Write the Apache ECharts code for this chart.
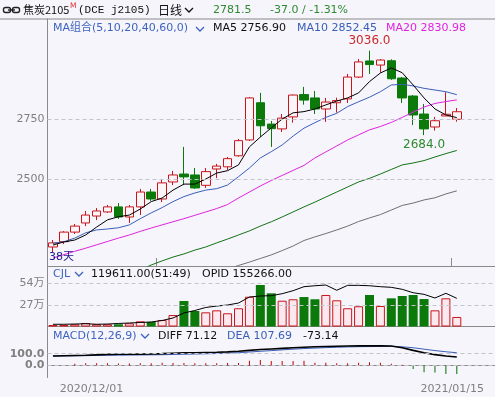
<!DOCTYPE html>
<html>
<head>
<meta charset="utf-8">
<script src="https://cdn.jsdelivr.net/npm/echarts@6/dist/echarts.min.js"></script>
<style>
html, body { margin: 0; padding: 0; background: #f5f5fb; }
#chart { width: 495px; height: 397px; }
</style>
</head>
<body>
<div id="chart"></div>
<script>
// 交易日
const dates = [
	'2020/11/24', '2020/11/25', '2020/11/26', '2020/11/27', '2020/11/30',
	'2020/12/01', '2020/12/02', '2020/12/03', '2020/12/04', '2020/12/07',
	'2020/12/08', '2020/12/09', '2020/12/10', '2020/12/11', '2020/12/14',
	'2020/12/15', '2020/12/16', '2020/12/17', '2020/12/18', '2020/12/21',
	'2020/12/22', '2020/12/23', '2020/12/24', '2020/12/25', '2020/12/28',
	'2020/12/29', '2020/12/30', '2020/12/31', '2021/01/04', '2021/01/05',
	'2021/01/06', '2021/01/07', '2021/01/08', '2021/01/11', '2021/01/12',
	'2021/01/13', '2021/01/14', '2021/01/15'
];
// K线
const opens = [2218, 2240, 2280, 2318, 2347, 2364, 2385, 2343, 2385, 2447, 2418, 2489, 2522, 2518, 2475, 2543, 2552, 2598, 2664, 2819, 2730, 2710, 2760, 2853, 2839, 2793, 2819, 2835, 2926, 2993, 2976, 2994, 2922, 2847, 2772, 2718, 2764, 2750];
const closes = [2235, 2280, 2305, 2351, 2368, 2385, 2343, 2385, 2447, 2418, 2485, 2518, 2510, 2464, 2532, 2555, 2586, 2661, 2839, 2723, 2711, 2755, 2851, 2830, 2793, 2822, 2828, 2926, 2989, 2978, 2997, 2919, 2839, 2768, 2710, 2744, 2771, 2781.5];
const lows = [2197, 2230, 2272, 2305, 2330, 2360, 2335, 2318, 2351, 2410, 2405, 2476, 2476, 2460, 2464, 2505, 2539, 2594, 2660, 2676, 2635, 2697, 2736, 2811, 2772, 2739, 2778, 2818, 2922, 2939, 2944, 2914, 2818, 2726, 2684, 2703, 2764, 2740];
const highs = [2247, 2284, 2314, 2368, 2380, 2393, 2401, 2393, 2460, 2460, 2501, 2535, 2635, 2547, 2547, 2564, 2593, 2668, 2843, 2860, 2743, 2772, 2853, 2885, 2868, 2839, 2840, 2939, 3001, 3036, 3001, 3000, 2926, 2851, 2814, 2760, 2863, 2797];
const peakIdx = 29;
const troughIdx = 34;
// 均线
const ma5 = [2226, 2239, 2247, 2268, 2301, 2331, 2344, 2351, 2376, 2407, 2422, 2455, 2480, 2480, 2501, 2526, 2536, 2560, 2635, 2676, 2714, 2751, 2777, 2782, 2793, 2810, 2826, 2839, 2860, 2907, 2943, 2964, 2944, 2893, 2839, 2793, 2768, 2756.90];
const ma10 = [2233, 2240, 2255, 2277, 2289, 2293, 2298, 2310, 2336, 2360, 2382, 2407, 2428, 2443, 2455, 2461, 2476, 2511, 2547, 2589, 2615, 2643, 2680, 2713, 2736, 2758, 2775, 2803, 2823, 2842, 2865, 2893, 2896, 2889, 2879, 2872, 2865, 2852.45];
const ma20 = [2172, 2186, 2200, 2213, 2227, 2241, 2255, 2268, 2283, 2297, 2310, 2323, 2336, 2350, 2364, 2378, 2395, 2422, 2447, 2472, 2495, 2516, 2537, 2558, 2589, 2614, 2639, 2664, 2685, 2706, 2720, 2737, 2758, 2780, 2801, 2816, 2824, 2830.98];
const ma40 = [null, null, null, null, null, null, null, null, 2122, 2143, 2160, 2176, 2189, 2205, 2218, 2235, 2251, 2268, 2285, 2305, 2323, 2343, 2364, 2385, 2405, 2426, 2447, 2468, 2489, 2504, 2522, 2541, 2560, 2568, 2578, 2593, 2607, 2620];
const ma60 = [null, null, null, null, null, null, null, null, null, null, null, null, null, null, null, null, 2126, 2141, 2155, 2170, 2185, 2203, 2222, 2245, 2260, 2274, 2289, 2305, 2324, 2339, 2353, 2372, 2391, 2401, 2414, 2423, 2439, 2452];
// 成交量 / 持仓
const volumes = [19000, 19000, 28000, 44000, 28000, 28000, 28000, 40000, 65000, 57000, 82000, 144000, 320000, 195000, 178000, 203000, 166000, 229000, 374000, 521000, 417000, 324000, 342000, 370000, 342000, 396000, 329000, 229000, 254000, 396000, 257000, 354000, 383000, 396000, 345000, 203000, 354000, 119611];
const oiLine = [28000, 28000, 31000, 35000, 28000, 31000, 38000, 44000, 50000, 57000, 75000, 107000, 170000, 201000, 239000, 257000, 270000, 295000, 370000, 383000, 387000, 412000, 450000, 500000, 512000, 521000, 455000, 517000, 517000, 512000, 500000, 492000, 467000, 424000, 404000, 358000, 417000, 354000];
const opid = 155266;
// MACD
const diff = [80, 82, 84, 86, 90, 94, 95, 95, 96, 97, 100, 104, 107, 108, 110, 112, 115, 120, 128, 135, 140, 145, 150, 154, 158, 161, 163, 165, 166, 166, 166, 165, 150, 128, 108, 92, 80, 71.12];
const dea = [80, 81, 82, 83, 85, 86, 87, 88, 89, 90, 91, 93, 95, 97, 99, 101, 104, 108, 114, 120, 126, 132, 138, 143, 147, 151, 154, 157, 159, 160, 161, 161, 158, 150, 138, 126, 116, 107.69];
const macdBar = [0, 0, 15, 18, 18, 18, 16, 16, 18, 18, 22, 20, 20, 18, 18, 18, 20, 20, 40, 46, 38, 38, 38, 40, 24, 22, 19, 19, 24, 27, 24, 15, 6, -30, -58, -60, -72, -73.14];
// 刻度
const priceTicks = [2500, 2750];
const volTicks = [270000, 540000];
const macdTicks = [0, 100];
const labelDates = ['2020/12/01', '2021/01/15'];
const tickIdx = [10, 37];

const font = '"DejaVu Sans", "Noto Sans CJK SC", sans-serif';
const cjkFont = '"Noto Sans CJK SC", sans-serif';
const upColor = '#c8151b';
const downColor = '#0b7a0b';
const axisColor = '#8a8a8a';
const blueText = '#3f63c0';
const last = dates.length - 1;

function txt(x, y, text, fill, size, fam) {
	return {
		type: 'text', x: x, y: y, z: 100, silent: true,
		style: { text: text, fill: fill, font: (size || 11) + 'px ' + (fam || font), verticalAlign: 'middle' }
	};
}
function chevron(x, y, color) {
	return {
		type: 'polyline', z: 100, silent: true,
		shape: { points: [[x, y], [x + 4, y + 4], [x + 8, y]] },
		style: { stroke: color, lineWidth: 1.3, fill: null }
	};
}
function hline(y, x1) {
	return { type: 'line', z: 90, silent: true, shape: { x1: x1, y1: y, x2: 495, y2: y }, style: { stroke: axisColor, lineWidth: 1 } };
}
function ticksLine(ticks, fmt, bold) {
	return {
		silent: true,
		symbol: ['none', 'none'],
		animation: false,
		lineStyle: { color: '#c4c4cc', type: [4, 3], width: 1 },
		label: { position: 'start', distance: 3, color: '#808080', fontFamily: font, fontSize: 11, fontWeight: bold ? 'bold' : 'normal', formatter: function (p) { return fmt(p.value); } },
		emphasis: { disabled: true },
		data: ticks.map(function (v) { return { yAxis: v }; })
	};
}
function maLine(data, color, xi, width) {
	return {
		type: 'line', data: data, xAxisIndex: xi, yAxisIndex: xi,
		symbol: 'none', showSymbol: false, silent: true,
		lineStyle: { color: color, width: width || 1 }
	};
}
function catAxis(i, tickShow, labelShow) {
	return {
		type: 'category', data: dates, gridIndex: i, max: 40, boundaryGap: true,
		axisLine: { show: true, lineStyle: { color: axisColor } },
		axisTick: {
			show: tickShow, inside: true, length: 8, alignWithLabel: false,
			interval: function (idx) { return i === 0 ? tickIdx.indexOf(idx) >= 0 : idx === tickIdx[1]; },
			lineStyle: { color: axisColor }
		},
		axisLabel: {
			show: labelShow, margin: 6, color: '#808080', fontFamily: font, fontSize: 11,
			interval: function (idx, v) { return labelDates.indexOf(v) >= 0; },
			formatter: function (v) { return v === labelDates[0] ? '{a|' + v + '}' : '{b|' + v + '}'; },
			rich: { a: { padding: [0, 32, 0, 0] }, b: { padding: [0, 9, 0, 0] } }
		},
		splitLine: { show: false }
	};
}
function valAxis(i, min, max) {
	return {
		type: 'value', gridIndex: i, min: min, max: max, scale: true,
		axisLine: { show: true, lineStyle: { color: axisColor } },
		axisTick: { show: false }, axisLabel: { show: false }, splitLine: { show: false }
	};
}

const chart = echarts.init(document.getElementById('chart'));

const option = {
	backgroundColor: '#f5f5fb',
	animation: false,
	grid: [
		{ left: 47.5, right: -3.5, top: 19, height: 247 },
		{ left: 47.5, right: -3.5, top: 266, height: 60.5 },
		{ left: 47.5, right: -3.5, top: 326.5, height: 51 }
	],
	xAxis: [catAxis(0, true, false), catAxis(1, false, false), catAxis(2, true, true)],
	yAxis: [valAxis(0, 2138.75, 3167.9), valAxis(1, 0, 760000), valAxis(2, -102, 330)],
	series: [
		{
			type: 'candlestick', xAxisIndex: 0, yAxisIndex: 0, barWidth: 9, silent: true,
			data: dates.map(function (d, i) { return [opens[i], closes[i], lows[i], highs[i]]; }),
			itemStyle: { color: '#fcf5f8', color0: downColor, borderColor: upColor, borderColor0: downColor, borderWidth: 1 },
			markLine: ticksLine(priceTicks, function (v) { return v; }),
			markPoint: {
				silent: true, animation: false, symbol: 'circle', symbolSize: 1,
				itemStyle: { color: 'rgba(0,0,0,0)' },
				label: { show: true, fontFamily: font, fontSize: 12, formatter: function (p) { return p.value.toFixed(1); } },
				data: [
					{ coord: [peakIdx, highs[peakIdx]], value: highs[peakIdx], label: { position: 'top', distance: 3, color: '#d02828' } },
					{ coord: [troughIdx, lows[troughIdx]], value: lows[troughIdx], label: { position: 'bottom', distance: 3, color: '#2e8a2e' } }
				]
			}
		},
		maLine(ma60, '#707070', 0),
		maLine(ma40, '#137313', 0),
		maLine(ma20, '#e024e0', 0),
		maLine(ma10, '#3a5fb8', 0),
		maLine(ma5, '#000000', 0),
		{
			type: 'bar', xAxisIndex: 1, yAxisIndex: 1, barWidth: 9, silent: true,
			data: volumes.map(function (v, i) {
				const up = closes[i] >= opens[i];
				return { value: v, itemStyle: up ? { color: '#fbe9ef', borderColor: upColor, borderWidth: 1 } : { color: downColor } };
			}),
			markLine: ticksLine(volTicks, function (v) { return (v / 10000) + '万'; })
		},
		maLine(oiLine, '#000000', 1),
		{
			type: 'bar', xAxisIndex: 2, yAxisIndex: 2, barWidth: 1, silent: true,
			data: macdBar.map(function (v) { return { value: v, itemStyle: { color: v >= 0 ? '#c00000' : '#007000' } }; }),
			markLine: ticksLine(macdTicks, function (v) { return v.toFixed(1); }, true)
		},
		maLine(dea, '#3a5fb8', 2),
		maLine(diff, '#000000', 2, 1.6)
	],
	graphic: [
		hline(19, 0),
		// 标题栏
		{ type: 'rect', z: 100, silent: true, shape: { x: 3.5, y: 7.5, width: 7, height: 5, r: 2 }, style: { stroke: '#222', lineWidth: 1.4, fill: null } },
		{ type: 'rect', z: 100, silent: true, shape: { x: 12.5, y: 7.5, width: 7, height: 5, r: 2 }, style: { stroke: '#222', lineWidth: 1.4, fill: null } },
		{ type: 'line', z: 100, silent: true, shape: { x1: 8, y1: 10, x2: 15, y2: 10 }, style: { stroke: '#222', lineWidth: 1.4 } },
		txt(23, 10, '焦炭2105', '#111', 11, cjkFont),
		txt(70, 6, 'M', '#e03030', 7.5),
		txt(78, 10, '(DCE j2105)', '#111', 11, '"Liberation Mono", monospace'),
		txt(158, 10, '日线', '#111', 12, cjkFont),
		chevron(185, 8, '#111'),
		txt(213, 10, closes[last].toFixed(1), '#2f8a2f', 11),
		txt(270, 10, (closes[last] - 2818.5).toFixed(1) + ' / ' + ((closes[last] - 2818.5) / 2818.5 * 100).toFixed(2) + '%', '#2f8a2f', 11),
		// 主图
		txt(53, 28, 'MA组合(5,10,20,40,60,0)', blueText, 11),
		chevron(196, 27, blueText),
		txt(213, 28, 'MA5 ' + ma5[last].toFixed(2), '#111', 11),
		txt(297, 28, 'MA10 ' + ma10[last].toFixed(2), '#3a5fb8', 11),
		txt(386, 28, 'MA20 ' + ma20[last].toFixed(2), '#e024e0', 11),
		txt(49, 257, '38天', '#1c1c88', 11),
		// 成交量
		txt(53, 274, 'CJL', blueText, 11),
		chevron(75, 272, blueText),
		txt(91, 274, volumes[last].toFixed(2) + '(51:49)', '#111', 11),
		txt(202, 274, 'OPID ' + opid.toFixed(2), '#111', 11),
		// MACD
		txt(53, 336, 'MACD(12,26,9)', blueText, 11),
		chevron(141, 334, blueText),
		txt(158, 336, 'DIFF ' + diff[last].toFixed(2), '#111', 11),
		txt(227, 336, 'DEA ' + dea[last].toFixed(2), '#3a5fb8', 11),
		txt(303, 336, macdBar[last].toFixed(2), '#111', 11)
	]
};

chart.setOption(option);
</script>
</body>
</html>
